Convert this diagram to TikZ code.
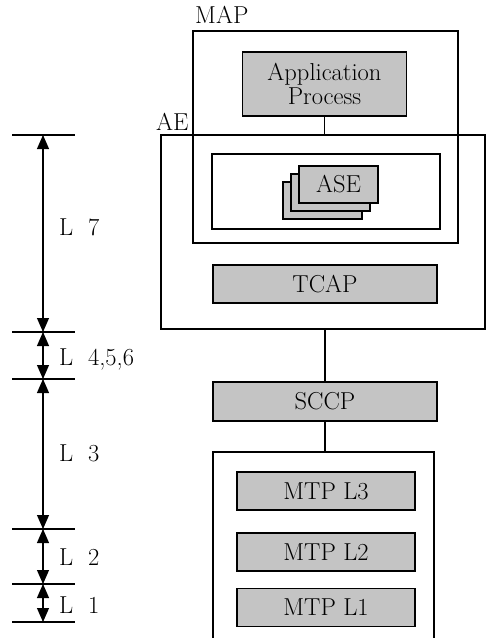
\documentclass[tikz,border=0pt]{standalone}
\usetikzlibrary{arrows.meta}

\begin{document}
\begin{tikzpicture}[x=1pt, y=-1pt,
  txt/.style={font=\fontsize{24.5}{24}\selectfont, inner sep=0pt},
  frame/.style={draw, line width=1.1pt, inner sep=0pt},
  layer/.style={draw, line width=1.5pt, fill=black!23, inner sep=0pt, align=center, font=\fontsize{24.5}{23.5}\selectfont},
  dimarrow/.style={line width=1.1pt, {Triangle[length=14pt,width=12pt]}-{Triangle[length=14pt,width=12pt]}}]
  \useasboundingbox (0,0) rectangle (486,638);
  % frames
  \node[frame, minimum width=265, minimum height=212] (map) at (325.5,137) {};
  \node[frame, minimum width=324, minimum height=194] (ae) at (323,232) {};
  \node[frame, minimum width=228, minimum height=75] (asebox) at (326,191.5) {};
  \node[txt, anchor=base west] (maplabel) at (195,23.5) {MAP};
  \node[txt, anchor=base west] (aelabel) at (156,130) {AE};
  % layers
  \node[layer, minimum width=164, minimum height=64] (ap) at (324.5,84) {Application\\Process};
  \coordinate (asepos) at (338.5,184.5);
  \node[layer, minimum width=79, minimum height=37] (ase3) at ([shift={(-16,16)}]asepos) {};
  \node[layer, minimum width=79, minimum height=37] (ase2) at ([shift={(-8,8)}]asepos) {};
  \node[layer, minimum width=79, minimum height=37] (ase1) at (asepos) {ASE};
  \node[layer, minimum width=224, minimum height=38] (tcap) at (325,284) {TCAP};
  \node[layer, minimum width=224, minimum height=39] (sccp) at (325,401.5) {SCCP};
  \node[layer, minimum width=178, minimum height=38] (mtp3) at (326,491) {MTP L3};
  \node[layer, minimum width=178, minimum height=38] (mtp2) at (326,552) {MTP L2};
  \node[layer, minimum width=178, minimum height=38] (mtp1) at (326,607.5) {MTP L1};
  % MTP frame, open at the bottom
  \coordinate (mtpnw) at (213,452);
  \coordinate (mtpne) at (434,452);
  \draw[line width=1.1pt] (213,645) -- (mtpnw) -- (mtpne) -- (434,645);
  % connectors
  \draw[line width=1.1pt] (ap.south) -- (ap.south |- ae.north);
  \draw[line width=1.1pt] (sccp.north) -- (sccp.north |- ae.south);
  \draw[line width=1.1pt] (sccp.south) -- (sccp.south |- mtpnw);
  % OSI levels
  \foreach \y/\n in {135/a, 332/b, 379/c, 529/d, 584/e, 622/f} {
    \coordinate (tick\n) at (43,\y);
    \draw[line width=1.1pt] (12,\y) -- (75,\y);
  }
  \foreach \a/\b in {a/b, b/c, c/d, d/e, e/f}
    \draw[dimarrow] (tick\a) -- (tick\b);
  \node[txt, anchor=base west] (l7) at (59,235) {L\ \ 7};
  \node[txt, anchor=base west] (l456) at (59,365) {L\ \ 4,5,6};
  \node[txt, anchor=base west] (l3) at (59,461) {L\ \ 3};
  \node[txt, anchor=base west] (l2) at (59,565) {L\ \ 2};
  \node[txt, anchor=base west] (l1) at (59,613) {L\ \ 1};
\end{tikzpicture}
\end{document}
